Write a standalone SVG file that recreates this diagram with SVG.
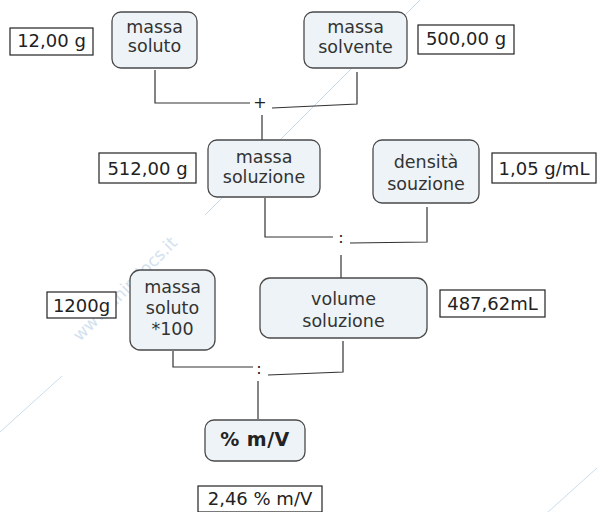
<svg xmlns="http://www.w3.org/2000/svg" width="597" height="512" viewBox="0 0 597 512">
<style>
.node rect{fill:#eef3f7;stroke:#4a4a4a;stroke-width:1.3}
.val rect{fill:#fff;stroke:#222;stroke-width:1.2}
text{font-family:"DejaVu Sans",Verdana,sans-serif;font-size:17.5px;fill:#333;text-anchor:middle}
.val text{font-size:18px;fill:#222}
.op{font-size:16px;fill:#222}
.conn path{fill:none;stroke:#333;stroke-width:1.2}
.wm line{stroke:#c9dcec;stroke-width:1}
.wm text{fill:#d3e2ef;font-size:17px;text-anchor:start}
</style>
<rect width="597" height="512" fill="#fff"/>
<g class="wm">
<line x1="420" y1="0" x2="205" y2="215"/>
<line x1="62" y1="376" x2="0" y2="432"/>
<line x1="597" y1="468" x2="548" y2="512"/>
<text transform="translate(80,342) rotate(-45)">www.unipdocs.it</text>
</g>
<g class="conn">
<path d="M155,70 V103 H250"/>
<path d="M272,108 L357,104 V72"/>
<path d="M262,115 V140"/>
<path d="M265,198 V237 H333"/>
<path d="M350,243 L427,242 V207"/>
<path d="M341,255 V278"/>
<path d="M173,351 V367 H253"/>
<path d="M268,375 L343,372 V341"/>
<path d="M258,381 V419"/>
</g>
<text class="op" x="260" y="108">+</text>
<text class="op" x="341" y="243">:</text>
<text class="op" x="259" y="374">:</text>
<g id="massa-soluto" class="node"><rect x="112" y="12" width="85" height="56" rx="9"/><text x="154.5" y="33">massa</text><text x="154.5" y="52">soluto</text></g>
<g id="v-soluto" class="val"><rect x="10" y="28" width="83" height="27"/><text x="51.5" y="47">12,00 g</text></g>
<g id="massa-solvente" class="node"><rect x="304" y="12" width="103" height="56" rx="9"/><text x="355.5" y="33">massa</text><text x="355.5" y="53">solvente</text></g>
<g id="v-solvente" class="val"><rect x="418" y="25" width="96" height="29"/><text x="466" y="45">500,00 g</text></g>
<g id="massa-soluzione" class="node"><rect x="208" y="140" width="112" height="57" rx="9"/><text x="264" y="163">massa</text><text x="264" y="183">soluzione</text></g>
<g id="v-soluzione" class="val"><rect x="99" y="153" width="97" height="30"/><text x="147.5" y="175">512,00 g</text></g>
<g id="densita" class="node"><rect x="373" y="140" width="106" height="63" rx="9"/><text x="426" y="168">densità</text><text x="426" y="190">souzione</text></g>
<g id="v-densita" class="val"><rect x="492" y="153" width="104" height="30"/><text x="544" y="175">1,05 g/mL</text></g>
<g id="massa-soluto-100" class="node"><rect x="130" y="270" width="85" height="80" rx="10"/><text x="172.5" y="293">massa</text><text x="172.5" y="314">soluto</text><text x="172.5" y="335">*100</text></g>
<g id="v-soluto-100" class="val"><rect x="47" y="292" width="69" height="26"/><text x="81.5" y="312">1200g</text></g>
<g id="volume" class="node"><rect x="260" y="278" width="167" height="60" rx="10"/><text x="343.5" y="305">volume</text><text x="343.5" y="327">soluzione</text></g>
<g id="v-volume" class="val"><rect x="440" y="290" width="105" height="27"/><text x="492.5" y="310">487,62mL</text></g>
<g id="perc" class="node"><rect x="205" y="420" width="100" height="41" rx="9"/><text x="255" y="446" style="font-weight:bold;font-size:19px;letter-spacing:0.5px;fill:#222">% m/V</text></g>
<g id="v-perc" class="val"><rect x="198" y="486" width="124" height="26"/><text x="260" y="505">2,46 % m/V</text></g>
</svg>
